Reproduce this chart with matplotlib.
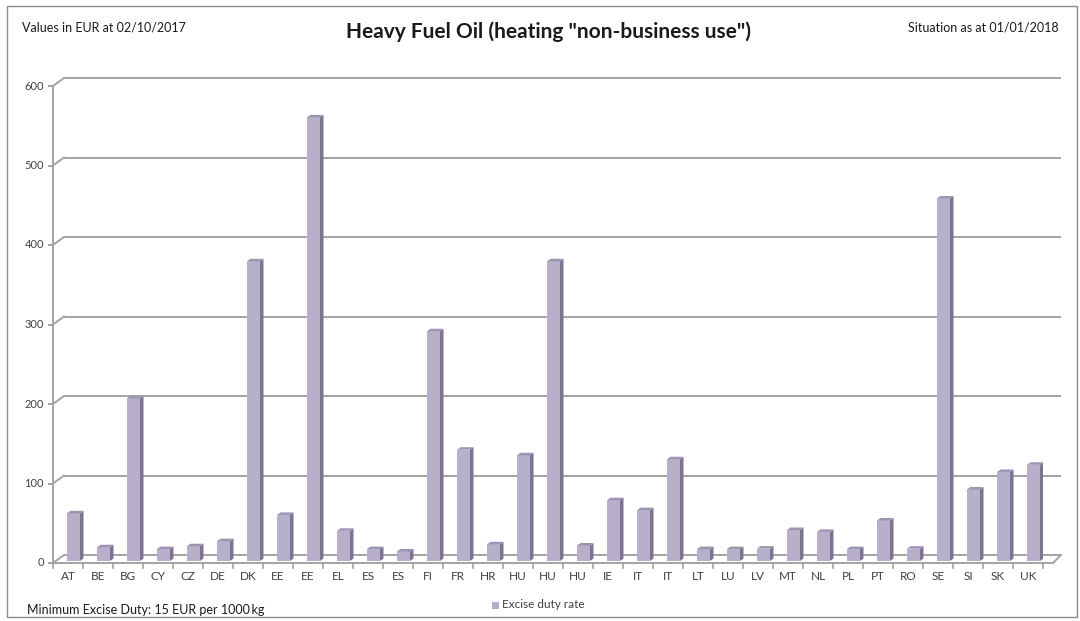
import matplotlib
matplotlib.use("Agg")
import matplotlib.pyplot as plt
from matplotlib import transforms
from matplotlib.collections import PolyCollection
from matplotlib.patches import Rectangle

# Excise duty rates, heavy fuel oil for heating (non-business use), EUR per 1000 kg
countries = ["AT", "BE", "BG", "CY", "CZ", "DE", "DK", "EE", "EE", "EL", "ES", "ES",
             "FI", "FR", "HR", "HU", "HU", "HU", "IE", "IT", "IT", "LT", "LU", "LV",
             "MT", "NL", "PL", "PT", "RO", "SE", "SI", "SK", "UK"]
rates = [60.0, 17.35, 204.52, 15.0, 18.6, 25.0, 377.0, 58.0, 558.0, 38.0, 15.0, 12.0,
         289.0, 140.0, 21.0, 133.0, 377.0, 19.5, 76.5, 64.0, 128.0, 15.0, 15.0, 15.65,
         39.0, 36.6, 15.0, 51.0, 15.5, 456.0, 90.0, 112.0, 121.0]
y_ticks = [0, 100, 200, 300, 400, 500, 600]

FONT = ["Lato", "DejaVu Sans"]
plt.rcParams["font.family"] = FONT

W, H = 1080, 621
fig = plt.figure(figsize=(W / 100, H / 100), dpi=100)
fig.patch.set_facecolor("white")

# outer chart frame
fig.add_artist(Rectangle((7 / W, 4 / H), 1070 / W, 611 / H, transform=fig.transFigure,
                         fill=False, edgecolor="#8c8c8c", linewidth=1.0))

# front plane of the plot area
left_px, right_px, bot_px, top_px = 53, 1043, 563, 86
ax = fig.add_axes([left_px / W, (H - bot_px) / H, (right_px - left_px) / W, (bot_px - top_px) / H])
n = len(countries)
ax.set_xlim(-0.5, n - 0.5)
ax.set_ylim(0, 600)
ax.axis("off")

# pixel -> data unit conversions
ux = n / (right_px - left_px)
uy = 600 / (bot_px - top_px)

grid_col = "#a3a3a3"
depth_dx, depth_dy = 11, 8          # back wall offset in pixels
back_right = n - 0.5 + 18 * ux       # back wall reaches a little further right

# back-wall gridlines with the short depth connectors from the front axis
for v in y_ticks:
    ax.plot([-0.5 + depth_dx * ux, back_right], [v + depth_dy * uy] * 2,
            color=grid_col, lw=1.4, solid_capstyle="butt", clip_on=False)
    ax.plot([-0.5, -0.5 + depth_dx * ux], [v, v + depth_dy * uy],
            color=grid_col, lw=1.4, clip_on=False)
    ax.plot([-0.5 - 4 * ux, -0.5], [v, v], color=grid_col, lw=1.4, clip_on=False)
    ax.text(-0.5 - 9 * ux, v, f"{v}", ha="right", va="center", fontsize=8,
            color="#404040", clip_on=False)

# front vertical axis
ax.plot([-0.5, -0.5], [0, 600], color=grid_col, lw=1.4, clip_on=False)
# floor front edge and right depth edge
floor_right = n - 0.5 + 10 * ux
ax.plot([-0.5, floor_right], [0, 0], color=grid_col, lw=1.4, clip_on=False)
ax.plot([floor_right, back_right], [0, depth_dy * uy], color=grid_col, lw=1.4, clip_on=False)

# category separators and labels
for k in range(n + 1):
    ax.plot([k - 0.5, k - 0.5], [0, -5 * uy], color=grid_col, lw=1.2, clip_on=False)
for i, c in enumerate(countries):
    ax.text(i, -14 * uy, c, ha="center", va="center", fontsize=8.5, color="#404040",
            clip_on=False)

# 3-D style columns
bar_tr = transforms.offset_copy(ax.transData, fig=fig, x=5.5, y=2, units="dots")
front_col, side_col, top_col = "#b8afcb", "#7c7490", "#9d94b2"
bw = 13 * ux
sx, sy = 3.5 * ux, 2.5 * uy
xs = list(range(n))
ax.bar(xs, rates, width=bw, color=front_col, linewidth=0, transform=bar_tr, zorder=3)
sides, tops = [], []
for x, v in zip(xs, rates):
    r, l = x + bw / 2, x - bw / 2
    sides.append([(r, 0), (r + sx, sy), (r + sx, v + sy), (r, v)])
    tops.append([(l, v), (r, v), (r + sx, v + sy), (l + sx, v + sy)])
ax.add_collection(PolyCollection(sides, facecolors=side_col, edgecolors="none",
                                 transform=bar_tr, zorder=3))
ax.add_collection(PolyCollection(tops, facecolors=top_col, edgecolors="none",
                                 transform=bar_tr, zorder=3))

# titles and notes
fig.text(548 / W, 1 - 32 / H, 'Heavy Fuel Oil (heating "non-business use")',
         ha="center", va="center", fontsize=15, fontweight="bold", color="#1a1a1a")
fig.text(22 / W, 1 - 28 / H, "Values in EUR at 02/10/2017", ha="left", va="center",
         fontsize=9, color="#1a1a1a")
fig.text(1059 / W, 1 - 27 / H, "Situation as at 01/01/2018", ha="right", va="center",
         fontsize=9, color="#1a1a1a")
fig.text(27 / W, 1 - 610 / H, "Minimum Excise Duty: 15 EUR per 1000\u2009kg", ha="left",
         va="center", fontsize=9, color="#1a1a1a")

# legend
fig.add_artist(Rectangle((492 / W, 1 - 609 / H), 7 / W, 7 / H, transform=fig.transFigure,
                         facecolor=front_col, edgecolor="none"))
fig.text(502 / W, 1 - 605 / H, "Excise duty rate", ha="left", va="center",
         fontsize=8.5, color="#404040")

fig.savefig("out.png", dpi=100, facecolor="white")
